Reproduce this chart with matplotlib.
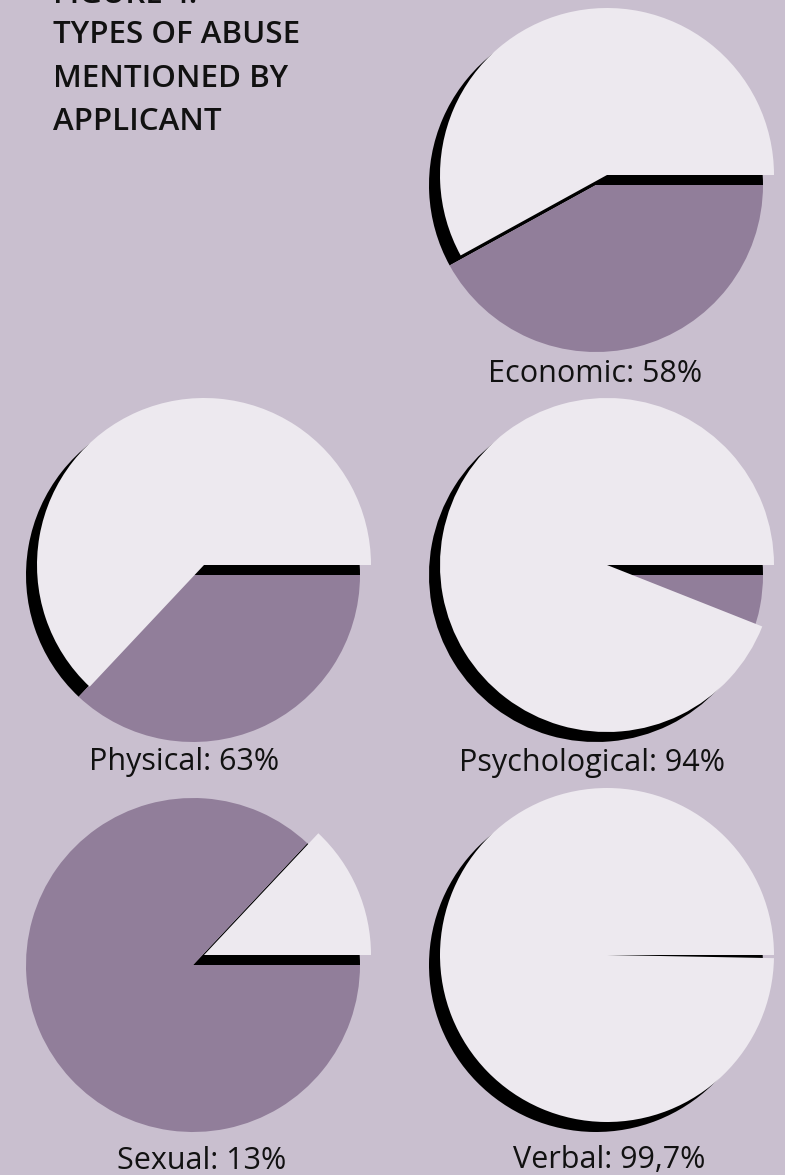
import matplotlib
matplotlib.use("Agg")
import matplotlib.pyplot as plt

# ---- data ----
categories = ["Economic", "Physical", "Psychological", "Sexual", "Verbal"]
percent_values = [58, 63, 94, 13, 99.7]
label_texts = ["Economic: 58%", "Physical: 63%", "Psychological: 94%",
               "Sexual: 13%", "Verbal: 99,7%"]
title_lines = ["FIGURE 4:", "TYPES OF ABUSE", "MENTIONED BY", "APPLICANT"]

# ---- layout (pixel space, y up) ----
W, H = 785, 1175
centers = [(596, H - 185), (193, H - 575), (596, H - 575),
           (193, H - 965), (596, H - 965)]
label_pos = [(595, H - 382), (184, H - 770), (592, H - 771),
             (202, H - 1169), (609, H - 1168)]
R = 167
OFF = (11, 10)

BG = "#c9bfcf"
LIGHT = "#ede9ef"
DARK = "#917e9a"
SHADOW = "#000000"

fig = plt.figure(figsize=(W / 100, H / 100), dpi=100, facecolor=BG)
ax = fig.add_axes([0, 0, 1, 1])
ax.set_facecolor(BG)

font = ["Open Sans", "DejaVu Sans"]

for val, (cx, cy), txt, (lx, ly) in zip(percent_values, centers, label_texts, label_pos):
    parts = [val, 100 - val]
    wp = dict(linewidth=0, antialiased=True)
    # shadow (unexploded light slice) + remaining dark slice
    ax.pie(parts, colors=[SHADOW, DARK], center=(cx, cy), radius=R,
           startangle=0, counterclock=True, wedgeprops=wp, frame=True)
    # light slice shifted up-right
    ax.pie(parts, colors=[LIGHT, "none"], center=(cx + OFF[0], cy + OFF[1]),
           radius=R, startangle=0, counterclock=True, wedgeprops=wp, frame=True)
    ax.text(lx, ly, txt, ha="center", va="baseline", fontsize=22,
            family=font, color="#111111")

# title
base_y = [3, 43, 87, 130]
for line, by in zip(title_lines, base_y):
    ax.text(53, H - by, line, ha="left", va="baseline", fontsize=22.5,
            family=font, weight="semibold", color="#111111")

ax.set_xlim(0, W)
ax.set_ylim(0, H)
ax.set_aspect("equal")
ax.axis("off")

fig.savefig("out.png", dpi=100, facecolor=BG)
